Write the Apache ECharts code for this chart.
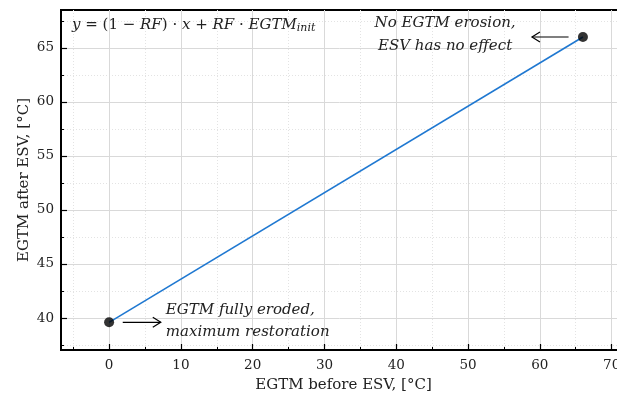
<!DOCTYPE html>
<html><head><meta charset="utf-8">
<script src="https://cdn.jsdelivr.net/npm/echarts@6/dist/echarts.min.js"></script>
<style>html,body{margin:0;padding:0;background:#fff}#c{width:617px;height:400px}</style>
</head><body><div id="c"></div>
<script>
// ---- data ----
const lineX = [0, 66];
const lineY = [39.6, 66];
const xTickValues = [0, 10, 20, 30, 40, 50, 60, 70];
const xMinorValues = [-5, 5, 15, 25, 35, 45, 55, 65];
const yTickValues = [40, 45, 50, 55, 60, 65];
const yMinorValues = [37.5, 42.5, 47.5, 52.5, 57.5, 62.5, 67.5];
const xRange = [-6.7, 72];
const yRange = [37.04, 68.5];
// arrows: [fromX, fromY, toX, toY]
const arrowFromX = [64, 1.9];
const arrowFromY = [66, 39.6];
const arrowToX = [58.9, 7.2];
const arrowToY = [66, 39.6];
// annotation texts
const noteTexts = ['No EGTM erosion,', 'ESV has no effect', 'EGTM fully eroded,', 'maximum restoration'];
const noteX = [46.8, 46.8, 7.9, 7.9];
const noteY = [67.25, 65.2, 40.75, 38.7];
const noteAlign = ['center', 'center', 'left', 'left'];

const FONT = 'DejaVu Serif';
const chart = echarts.init(document.getElementById('c'), null, {renderer: 'canvas'});

const arrowData = arrowFromX.map((v, i) => [v, arrowFromY[i], arrowToX[i], arrowToY[i]]);
const noteData = noteTexts.map((t, i) => [noteX[i], noteY[i], t, noteAlign[i]]);

chart.setOption({
  animation: false,
  grid: {left: 61, top: 10, width: 565, height: 340, containLabel: false, outerBoundsMode: 'none',
    show: true, borderColor: '#000', borderWidth: 2, backgroundColor: 'transparent'},
  xAxis: [{
    type: 'value', min: xRange[0], max: xRange[1], position: 'bottom',
    name: 'EGTM before ESV, [°C]', nameLocation: 'middle', nameGap: 28, nameMoveOverlap: false,
    nameTextStyle: {fontFamily: FONT, fontSize: 15, color: '#222'},
    axisLine: {show: true, onZero: false, lineStyle: {color: '#000', width: 2}},
    axisTick: {show: true, inside: true, length: 6, customValues: xTickValues, lineStyle: {color: '#000', width: 1.2}},
    axisLabel: {customValues: xTickValues, fontFamily: FONT, fontSize: 13.5, color: '#222', margin: 8, hideOverlap: false},
    splitLine: {show: true, lineStyle: {color: '#d9d9d9', width: 1}}
  }, {
    type: 'value', min: xRange[0], max: xRange[1], position: 'bottom',
    axisLine: {show: false, onZero: false},
    axisTick: {show: true, inside: true, length: 3, customValues: xMinorValues, lineStyle: {color: '#000', width: 1}},
    axisLabel: {show: false},
    splitLine: {show: true, lineStyle: {color: '#e3e3e3', width: 1, type: [1, 2]}}
  }],
  yAxis: [{
    type: 'value', min: yRange[0], max: yRange[1], position: 'left',
    name: 'EGTM after ESV, [°C]', nameLocation: 'middle', nameGap: 29, nameMoveOverlap: false,
    nameTextStyle: {fontFamily: FONT, fontSize: 15, color: '#222'},
    axisLine: {show: true, onZero: false, lineStyle: {color: '#000', width: 2}},
    axisTick: {show: true, inside: true, length: 6, customValues: yTickValues, lineStyle: {color: '#000', width: 1.2}},
    axisLabel: {customValues: yTickValues, fontFamily: FONT, fontSize: 13.5, color: '#222', margin: 7},
    splitLine: {show: true, lineStyle: {color: '#d9d9d9', width: 1}}
  }, {
    type: 'value', min: yRange[0], max: yRange[1], position: 'left',
    axisLine: {show: false, onZero: false},
    axisTick: {show: true, inside: true, length: 3, customValues: yMinorValues, lineStyle: {color: '#000', width: 1}},
    axisLabel: {show: false},
    splitLine: {show: true, lineStyle: {color: '#e3e3e3', width: 1, type: [1, 2]}}
  }],
  series: [{
    type: 'line', xAxisIndex: 0, yAxisIndex: 0,
    data: lineX.map((x, i) => [x, lineY[i]]),
    lineStyle: {color: '#1f78d1', width: 1.6},
    symbol: 'none', z: 3
  }, {
    type: 'scatter', xAxisIndex: 0, yAxisIndex: 0,
    data: lineX.map((x, i) => [x, lineY[i]]),
    symbol: 'circle', symbolSize: 10,
    itemStyle: {color: '#000'}, z: 4
  }, {
    type: 'custom', xAxisIndex: 0, yAxisIndex: 0, z: 5,
    data: arrowData,
    renderItem: function (params, api) {
      const a = api.coord([api.value(0), api.value(1)]);
      const b = api.coord([api.value(2), api.value(3)]);
      const dx = b[0] - a[0], dy = b[1] - a[1];
      const len = Math.sqrt(dx * dx + dy * dy);
      const ux = dx / len, uy = dy / len;
      const hl = 8, hw = 5;
      const p1 = [b[0] - ux * hl - uy * hw, b[1] - uy * hl + ux * hw];
      const p2 = [b[0] - ux * hl + uy * hw, b[1] - uy * hl - ux * hw];
      return {type: 'group', children: [
        {type: 'line', shape: {x1: a[0], y1: a[1], x2: b[0], y2: b[1]}, style: {stroke: '#000', lineWidth: 1.2}},
        {type: 'polyline', shape: {points: [p1, b, p2]}, style: {stroke: '#000', lineWidth: 1.2, fill: null}}
      ]};
    }
  }, {
    type: 'custom', xAxisIndex: 0, yAxisIndex: 0, z: 5,
    data: noteData,
    renderItem: function (params, api) {
      const p = api.coord([api.value(0), api.value(1)]);
      const item = noteData[params.dataIndex];
      return {type: 'text', x: p[0], y: p[1], style: {
        text: item[2], align: item[3], verticalAlign: 'middle',
        fontFamily: FONT, fontStyle: 'italic', fontSize: 15, fill: '#222'
      }};
    }
  }],
  graphic: [{
    type: 'text', left: 72, top: 18, z: 10,
    style: {
      rich: {
        i: {fontFamily: FONT, fontStyle: 'italic', fontSize: 15, fill: '#222'},
        n: {fontFamily: FONT, fontSize: 15, fill: '#222'},
        s: {fontFamily: FONT, fontStyle: 'italic', fontSize: 11, fill: '#222', padding: [6, 0, 0, 0]}
      },
      text: '{i|y}{n| = (1 − }{i|RF}{n|) · }{i|x}{n| + }{i|RF}{n| · }{i|EGTM}{s|init}'
    }
  }]
});
</script></body></html>
